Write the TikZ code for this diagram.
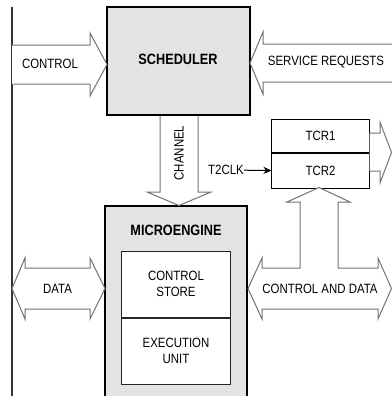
\documentclass[tikz,border=0pt]{standalone}
\usepackage{fontspec}
\setmainfont{Liberation Sans}[FakeStretch=0.85]
\usepackage{tikz}
\usetikzlibrary{arrows.meta}
\definecolor{boxgray}{gray}{0.89}
\tikzset{>={Stealth[length=8bp, width=7bp, inset=2.5bp]}}

\begin{document}
\begin{tikzpicture}[x=1bp, y=-1bp]

  % unit = grey block, fat = hollow block arrow, part = white sub box
  \tikzstyle{every node}=[inner sep=0pt, font=\fontsize{13.5}{16.5}\selectfont]
  \tikzstyle{unit}=[draw=black, line width=1.4bp, fill=boxgray]
  \tikzstyle{part}=[draw=black!85, line width=1bp, fill=white]
  \tikzstyle{fat}=[draw=black!55, line width=1bp, fill=white, line join=miter]
  \tikzstyle{title}=[font=\bfseries\fontsize{15}{17}\selectfont]
  \useasboundingbox (0,0) rectangle (392,396);
  \clip (0,0) rectangle (392,396);

  \coordinate (bustop) at (12,7);
  \coordinate (busbot) at (12,396);
  \draw[line width=1.4bp, black!80] (bustop) -- (busbot);

  \node[unit, minimum width=143bp, minimum height=108bp] (sched) at (178.5,61) {};
  \node[title] (schedtxt) at (178,59.5) {SCHEDULER};

  \node[unit, minimum width=142bp, minimum height=214bp] (micro) at (176,313) {};
  \node[title] (microtxt) at (176,230) {MICROENGINE};
  \node[part, minimum width=108bp, minimum height=66bp] (store) at (176,284) {};
  \node[part, minimum width=108bp, minimum height=66bp, anchor=north]
        (exec) at (store.south) {};
  \node[align=center] (storetxt) at (store) {CONTROL\\STORE};
  \node[align=center] (exectxt) at (exec) {EXECUTION\\UNIT};

  \node[part, draw=black, minimum width=97bp, minimum height=33bp] (tcr1) at (320.5,135.5) {TCR1};
  \node[part, draw=black, minimum width=97bp, minimum height=35bp, anchor=north]
        (tcr2) at (tcr1.south) {TCR2};

  % block arrows
  \draw[fat] (12,45) -- (90,45) -- (90,33) -- (107,64.5) -- (90,96) -- (90,84) -- (12,84);
  \node (ctrltxt) at (50,63.5) {CONTROL};

  \draw[fat] (393,44) -- (263,44) -- (263,32) -- (250,63) -- (263,94) -- (263,82) -- (393,82);
  \node (srvtxt) at (326,62.5) {SERVICE REQUESTS};

  \draw[fat] (160,116) -- (160,192) -- (147,192) -- (179,205.5) -- (211,192) -- (198,192) -- (198,116);
  \node[rotate=90] (chantxt) at (179,153) {CHANNEL};

  \draw[fat] (12,288.5) -- (25,258) -- (25,268) -- (90,268) -- (90,258) -- (105,288.5)
        -- (90,319) -- (90,309) -- (25,309) -- (25,319) -- cycle;
  \node (datatxt) at (57.5,289) {DATA};

  \draw[fat] (248,288.5) -- (262,258) -- (262,268) -- (300,268) -- (300,202) -- (287,202)
        -- (319,187.5) -- (350,202) -- (338,202) -- (338,268) -- (378,268) -- (378,258)
        -- (391.5,288.5) -- (378,319) -- (378,309) -- (262,309) -- (262,319) -- cycle;
  \node (cdtxt) at (320,289) {CONTROL AND DATA};

  \draw[fat] (369.5,133) -- (380,133) -- (380,122) -- (391.5,152.5) -- (380,183) -- (380,171) -- (369.5,171);

  \node[anchor=east] (clktxt) at (244,170) {T2CLK};
  \draw[->, line width=1bp] (clktxt) -- (tcr2.west);

\end{tikzpicture}
\end{document}
